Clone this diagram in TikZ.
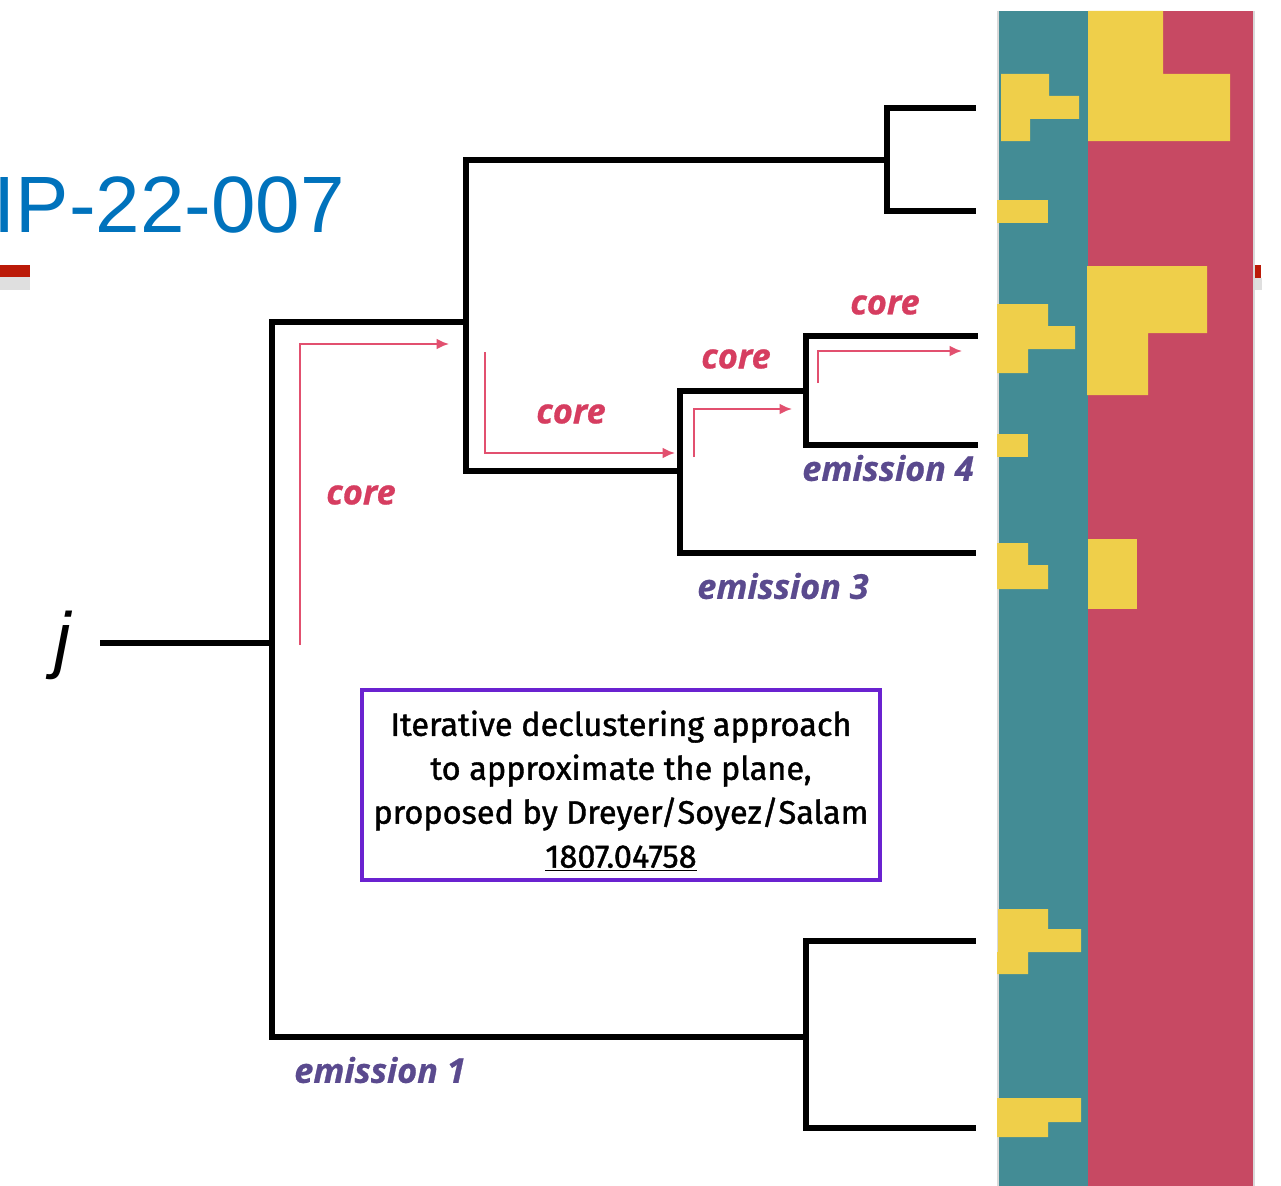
\documentclass[tikz,border=0pt]{standalone}
\usepackage{fontspec}
\setmainfont{Liberation Sans}
\newfontfamily\lblfont[BoldItalicFeatures={FakeBold=0.8}]{Open Sans}
\newfontfamily\boxfont[FakeBold=1.2]{Fira Sans}
\usetikzlibrary{arrows.meta}
\definecolor{titleblue}{HTML}{0072BC}
\definecolor{hdrred}{HTML}{BB1A08}
\definecolor{teal}{HTML}{438C95}
\definecolor{rose}{HTML}{C74963}
\definecolor{ochre}{HTML}{EFCF4A}
\definecolor{corepink}{HTML}{D63D60}
\definecolor{arrowpink}{HTML}{E2506F}
\definecolor{empurple}{HTML}{5A4A8E}
\definecolor{boxpurple}{HTML}{6A22D0}
\tikzset{
  tree/.style={line width=2.9pt, line cap=rect, line join=miter},
  flow/.style={arrowpink, line width=1.1pt, -{Latex[length=7pt,width=6pt]}},
  corelbl/.style={text=corepink, font=\lblfont\bfseries\itshape\fontsize{19.5}{22}\selectfont, inner sep=0pt},
  emlbl/.style={text=empurple, font=\lblfont\bfseries\itshape\fontsize{19.5}{22}\selectfont, inner sep=0pt},
  blob/.style={fill=ochre, draw=none},
}
\begin{document}
\begin{tikzpicture}[x=0.02cm,y=-0.02cm]
\useasboundingbox (0,0) rectangle (1281,1186);
% header remnants
\fill[gray!25] (0,277) rectangle (30,290);
\fill[hdrred] (0,265) rectangle (30,277);
\fill[gray!25] (1255,278) rectangle (1262,290);
\fill[hdrred] (1255,265) rectangle (1261,278);
\node[anchor=base east, text=titleblue, font=\fontsize{45.5}{48}\selectfont, inner sep=0pt] (title) at (345,232) {IP-22-007};
% colour bars
\fill[teal] (998,11) rectangle (1088,1186);
\fill[rose] (1088,11) rectangle (1254,1186);
\draw[gray!30, line width=0.6pt] (998,11) -- (998,1186) (1254,11) -- (1254,1186);
% yellow blobs (teal column)
\fill[blob] (1001,74) -- (1049,74) -- (1049,96) -- (1079,96) -- (1079,119) -- (1030,119) -- (1030,141) -- (1001,141) -- cycle;
\fill[blob] (997,200) rectangle (1048,223);
\fill[blob] (997,304) -- (1048,304) -- (1048,326) -- (1075,326) -- (1075,349) -- (1028,349) -- (1028,373) -- (997,373) -- cycle;
\fill[blob] (997,434) rectangle (1028,457);
\fill[blob] (997,543) -- (1028,543) -- (1028,565) -- (1048,565) -- (1048,589) -- (997,589) -- cycle;
\fill[blob] (998,909) -- (1048,909) -- (1048,929) -- (1081,929) -- (1081,952) -- (1028,952) -- (1028,974) -- (997,974) -- (997,952) -- (998,952) -- cycle;
\fill[blob] (997,1098) -- (1081,1098) -- (1081,1122) -- (1048,1122) -- (1048,1137) -- (997,1137) -- cycle;
% yellow blobs (rose column)
\fill[blob] (1088,11) -- (1163,11) -- (1163,74) -- (1230,74) -- (1230,141) -- (1088,141) -- cycle;
\fill[blob] (1087,266) -- (1207,266) -- (1207,333) -- (1148,333) -- (1148,395) -- (1087,395) -- cycle;
\fill[blob] (1088,539) rectangle (1137,609);
% jet label
\node[font=\itshape\fontsize{42}{44}\selectfont, inner sep=0pt, anchor=base] (j) at (63,664) {j};
% tree coordinates
\coordinate (r0) at (103,643);
\coordinate (r1) at (272,643);
\coordinate (a1) at (272,322);
\coordinate (a2) at (272,1037);
\coordinate (b1) at (466,322);
\coordinate (b0) at (466,160);
\coordinate (b2) at (466,471);
\coordinate (c1) at (887,160);
\coordinate (c0) at (887,108);
\coordinate (c2) at (887,211);
\coordinate (c0e) at (973,108);
\coordinate (c2e) at (973,211);
\coordinate (d1) at (680,471);
\coordinate (d0) at (680,391);
\coordinate (d2) at (680,553);
\coordinate (d2e) at (973,553);
\coordinate (e1) at (806,391);
\coordinate (e0) at (806,336);
\coordinate (e2) at (806,445);
\coordinate (e0e) at (975,336);
\coordinate (e2e) at (975,445);
\coordinate (f1) at (806,1037);
\coordinate (f0) at (806,941);
\coordinate (f2) at (806,1128);
\coordinate (f0e) at (973,941);
\coordinate (f2e) at (973,1128);
% tree
\draw[tree] (r0) -- (r1);
\draw[tree] (a1) -- (a2);
\draw[tree] (a1) -- (b1);
\draw[tree] (b0) -- (b2);
\draw[tree] (b0) -- (c1);
\draw[tree] (c0) -- (c2);
\draw[tree] (c0) -- (c0e);
\draw[tree] (c2) -- (c2e);
\draw[tree] (b2) -- (d1);
\draw[tree] (d0) -- (d2);
\draw[tree] (d0) -- (e1);
\draw[tree] (e0) -- (e2);
\draw[tree] (e0) -- (e0e);
\draw[tree] (e2) -- (e2e);
\draw[tree] (d2) -- (d2e);
\draw[tree] (a2) -- (f1);
\draw[tree] (f0) -- (f2);
\draw[tree] (f0) -- (f0e);
\draw[tree] (f2) -- (f2e);
% flow arrows
\coordinate (p1s) at (300,645); \coordinate (p1c) at (300,344); \coordinate (p1e) at (449,344);
\coordinate (p2s) at (485,352); \coordinate (p2c) at (485,453); \coordinate (p2e) at (675,453);
\coordinate (p3s) at (694,457); \coordinate (p3c) at (694,409); \coordinate (p3e) at (792,409);
\coordinate (p4s) at (818,383); \coordinate (p4c) at (818,351); \coordinate (p4e) at (962,351);
\draw[flow] (p1s) -- (p1c) -- (p1e);
\draw[flow] (p2s) -- (p2c) -- (p2e);
\draw[flow] (p3s) -- (p3c) -- (p3e);
\draw[flow] (p4s) -- (p4c) -- (p4e);
% labels
\node[corelbl] (core1) at (361,495) {core};
\node[corelbl] (core2) at (571,414) {core};
\node[corelbl] (core3) at (736,359) {core};
\node[corelbl] (core4) at (885,305) {core};
\node[emlbl] (em4) at (888,468) {emission 4};
\node[emlbl] (em3) at (783,586) {emission 3};
\node[emlbl] (em1) at (380,1070) {emission 1};
% info box
\node[draw=boxpurple, line width=2.2pt, fill=white, inner sep=0pt,
      minimum width=10.36cm, minimum height=3.8cm] (info) at (621,785) {};
\node[font=\boxfont\fontsize{18.5}{25}\selectfont, align=center, inner sep=0pt] (infotext) at (621,791)
  {Iterative declustering approach\\to approximate the plane,\\proposed by Dreyer/Soyez/Salam\\\underline{1807.04758}};
\end{tikzpicture}
\end{document}
